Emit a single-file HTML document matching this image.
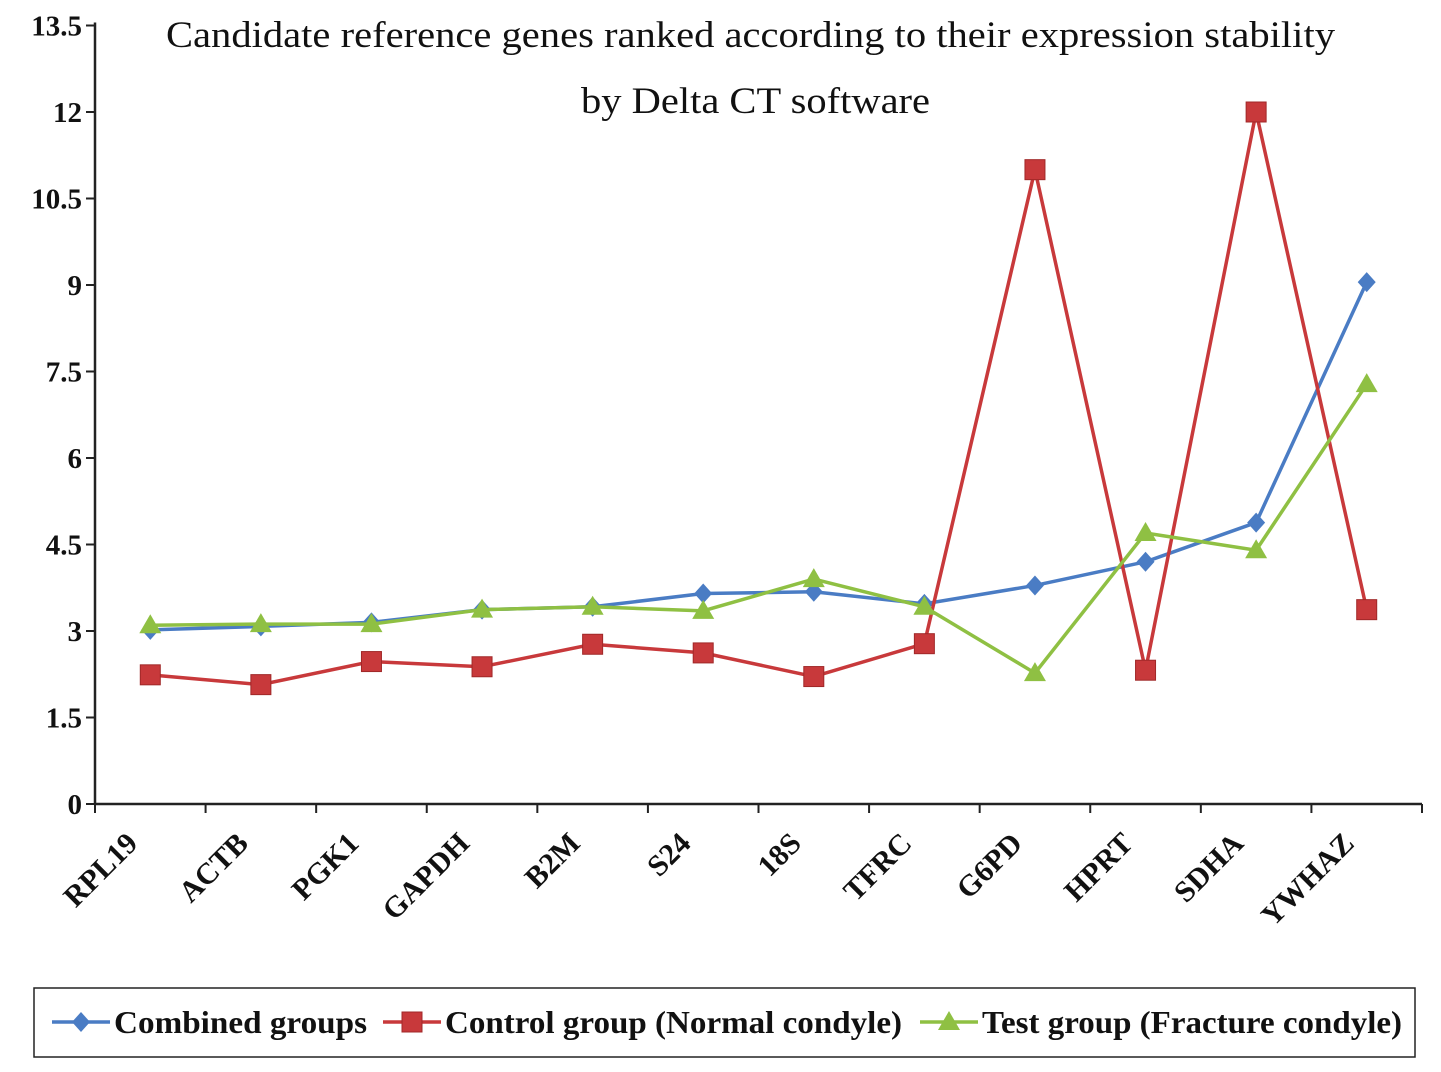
<!DOCTYPE html>
<html><head><meta charset="utf-8"><style>
body{margin:0;background:#fff;}
svg{display:block;font-family:"Liberation Serif",serif;}
</style></head><body>
<svg id="chart" width="1441" height="1072" viewBox="0 0 1441 1072">
<text x="166" y="47" font-size="37" fill="#111" textLength="1169" lengthAdjust="spacingAndGlyphs">Candidate reference genes ranked according to their expression stability</text>
<text x="581" y="113" font-size="37" fill="#111" textLength="349" lengthAdjust="spacingAndGlyphs">by Delta CT software</text>
<g id="axes"></g><g id="series"></g>
<rect x="34" y="988" width="1381" height="69" fill="none" stroke="#222" stroke-width="1.5"/>
<g id="legend"></g>
</svg>
<script>
const categories=["RPL19","ACTB","PGK1","GAPDH","B2M","S24","18S","TFRC","G6PD","HPRT","SDHA","YWHAZ"];
const combined=[3.02,3.08,3.15,3.37,3.42,3.65,3.68,3.47,3.79,4.2,4.88,9.05];
const control=[2.24,2.07,2.47,2.38,2.77,2.62,2.21,2.78,11.0,2.32,12.0,3.37];
const test=[3.1,3.12,3.12,3.37,3.42,3.35,3.9,3.42,2.27,4.7,4.4,7.28];
const yTicks=[0,1.5,3,4.5,6,7.5,9,10.5,12,13.5];
const yTickLabels=["0","1.5","3","4.5","6","7.5","9","10.5","12","13.5"];
const NS="http://www.w3.org/2000/svg";
const X0=95,X1=1422,Y0=804,YMAX=13.5,YTOP=25.5;
const bw=(X1-X0)/categories.length;
const x=i=>X0+bw*(i+0.5);
const y=v=>Y0-(v/YMAX)*(Y0-YTOP);
function mk(tag,attrs,parent){const e=document.createElementNS(NS,tag);for(const k in attrs)e.setAttribute(k,attrs[k]);parent.appendChild(e);return e;}
const ax=document.getElementById('axes');
let a=mk('line',{x1:X0,y1:YTOP-3,x2:X0,y2:Y0,stroke:'#222','stroke-width':2.5},ax);

a=mk('line',{x1:X0,y1:Y0,x2:X1,y2:Y0,stroke:'#222','stroke-width':2.5},ax);

yTicks.forEach((v,i)=>{
 const t=mk('line',{x1:X0-9,y1:y(v),x2:X0,y2:y(v),stroke:'#222','stroke-width':2},ax);
 
 const l=mk('text',{x:X0-13,y:y(v)+10,'text-anchor':'end','font-size':29,'font-weight':'bold',fill:'#111'},ax);
 l.textContent=yTickLabels[i];
 
});
for(let i=0;i<=categories.length;i++){
 const t=mk('line',{x1:X0+bw*i,y1:Y0,x2:X0+bw*i,y2:Y0+9,stroke:'#222','stroke-width':2},ax);
 
}
categories.forEach((c,i)=>{
 const l=mk('text',{x:0,y:0,'text-anchor':'end','font-size':30,'font-weight':'bold',fill:'#111',transform:`translate(${x(i)-11},${Y0+41}) rotate(-45)`},ax);
 l.textContent=c;
 
});
const sg=document.getElementById('series');
function marker(kind,cx,cy,color,parent){
 let m;
 if(kind==='d')m=mk('polygon',{points:`${cx},${cy-10} ${cx+9},${cy} ${cx},${cy+10} ${cx-9},${cy}`,fill:color},parent);
 else if(kind==='s')m=mk('rect',{x:cx-10,y:cy-10,width:20,height:20,fill:color,stroke:'#a02828','stroke-width':1},parent);
 else m=mk('polygon',{points:`${cx},${cy-11} ${cx+11},${cy+8} ${cx-11},${cy+8}`,fill:color},parent);
 return m;
}
const series=[[combined,'#4a7cc4','d','combined-groups'],[control,'#c8393b','s','control-group'],[test,'#8fc043','t','test-group']];
series.forEach(([vals,col,kind,name])=>{
 const p=mk('polyline',{points:vals.map((v,i)=>x(i)+','+y(v)).join(' '),fill:'none',stroke:col,'stroke-width':3.5},sg);
 
 vals.forEach((v,i)=>{const m=marker(kind,x(i),y(v),col,sg);
  });
});
const lg=document.getElementById('legend');
const leg=[['Combined groups',52,253,'#4a7cc4','d','legend-combined'],['Control group (Normal condyle)',383,457,'#c8393b','s','legend-control'],['Test group (Fracture condyle)',920,420,'#8fc043','t','legend-test']];
leg.forEach(([txt,lx,tw,col,kind,name])=>{
 const g=mk('g',{},lg);
 
 mk('line',{x1:lx,y1:1022,x2:lx+58,y2:1022,stroke:col,'stroke-width':3.5},g);
 marker(kind,lx+29,1022,col,g);
 const t=mk('text',{x:lx+62,y:1033,'font-size':32,'font-weight':'bold',fill:'#111',textLength:tw,lengthAdjust:'spacingAndGlyphs'},g);
 t.textContent=txt;
});
</script>
</body></html>
